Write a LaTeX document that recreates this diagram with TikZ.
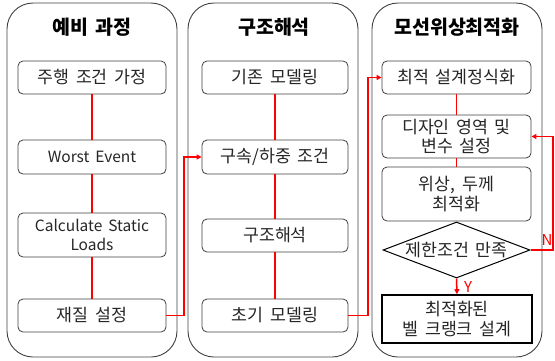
\documentclass[tikz,border=0pt]{standalone}
\usepackage{fontspec}
\setmainfont[WordSpace=1.7]{Noto Sans CJK KR}
\usetikzlibrary{shapes.geometric,arrows.meta}
\definecolor{bordergray}{HTML}{404040}
\definecolor{txtgray}{HTML}{262626}
\begin{document}
\begin{tikzpicture}[x=1pt,y=-1pt,
  colbox/.style={draw=bordergray,line width=0.9pt,rounded corners=26pt,minimum width=170pt,minimum height=354pt,inner sep=0pt},
  ttl/.style={font=\fontsize{19.5}{23}\selectfont\bfseries,text=black},
  stepbox/.style={draw=bordergray,line width=0.8pt,rounded corners=5pt,fill=white,inner sep=0pt,align=center,font=\fontsize{17.3}{19.5}\selectfont,text=txtgray},
  latin/.style={font=\fontsize{15.5}{19}\selectfont},
  finalbox/.style={draw=black,line width=1.6pt,fill=white,inner sep=0pt,align=center,font=\fontsize{17.3}{20.5}\selectfont,text=txtgray},
  dia/.style={draw=black,line width=1pt,diamond,fill=white,inner sep=0pt,minimum width=147pt,minimum height=56pt},
  link/.style={draw=red,line width=1.5pt},
  arr/.style={link,-{Triangle[length=5pt,width=5pt]}},
  lbl/.style={text=red,font=\fontsize{15}{17}\selectfont,inner sep=0pt}
]
\useasboundingbox (0,0) rectangle (555,360);
% columns
\node[colbox] (c1) at (92,180) {};
\node[colbox] (c2) at (273,180) {};
\node[colbox] (c3) at (457,180) {};
\node[ttl] (t1) at (92,27) {예비 과정};
\node[ttl] (t2) at (274,27) {구조해석};
\node[ttl] (t3) at (457,27) {모선위상최적화};
% column 1
\node[stepbox,minimum width=148pt,minimum height=33pt] (a1) at (92,77.5) {주행 조건 가정};
\node[stepbox,latin,minimum width=148pt,minimum height=34pt] (a2) at (92,157) {Worst Event};
\node[stepbox,latin,minimum width=148pt,minimum height=44pt] (a3) at (92,235) {Calculate Static\\Loads};
\node[stepbox,minimum width=148pt,minimum height=33pt] (a4) at (92,315.5) {재질 설정};
% column 2
\node[stepbox,minimum width=146pt,minimum height=33pt] (b1) at (275,77.5) {기존 모델링};
\node[stepbox,minimum width=146pt,minimum height=34pt] (b2) at (275,157) {구속/하중 조건};
\node[stepbox,minimum width=146pt,minimum height=33pt] (b3) at (275,235.5) {구조해석};
\node[stepbox,minimum width=146pt,minimum height=33pt] (b4) at (275,315.5) {초기 모델링};
% column 3
\node[stepbox,minimum width=149pt,minimum height=33pt] (d1) at (456.5,77.5) {최적 설계정식화};
\node[stepbox,minimum width=149pt,minimum height=43pt] (d2) at (456.5,136.5) {디자인 영역 및\\변수 설정};
\node[stepbox,minimum width=149pt,minimum height=54pt] (d3) at (456.5,194) {위상, 두께\\최적화};
\node[dia,label={[font=\fontsize{17.3}{19}\selectfont,text=txtgray]center:제한조건 만족}] (d4) at (456.5,250) {};
\node[finalbox,minimum width=150pt,minimum height=48pt] (d5) at (457,319) {최적화된\\벨 크랭크 설계};
% junction coordinates
\coordinate (j1) at (184,0);
\coordinate (j2) at (368,0);
\coordinate (j3) at (553,0);
% connectors
\draw[link] (a1.south) -- (a2.north);
\draw[link] (a2.south) -- (a3.north);
\draw[link] (a3.south) -- (a4.north);
\draw[link] (b1.south) -- (b2.north);
\draw[link] (b2.south) -- (b3.north);
\draw[link] (b3.south) -- (b4.north);
\draw[link] (d1.south) -- (d2.north);
\draw[link] (d2.south) -- (d3.north);
\draw[arr] (a4.east) -- (a4.east -| j1) -- (j1 |- b2.west) -- (b2.west);
\draw[arr] (b4.east) -- (b4.east -| j2) -- (j2 |- d1.west) -- (d1.west);
\draw[arr] (d4.east) -- (d4.east -| j3) -- (j3 |- d2.east) -- (d2.east);
\draw[arr] (d4.south) -- (d5.north);
\node[lbl] (yl) at (468,287) {Y};
\node[lbl] (nl) at (547,240) {N};
\end{tikzpicture}
\end{document}
